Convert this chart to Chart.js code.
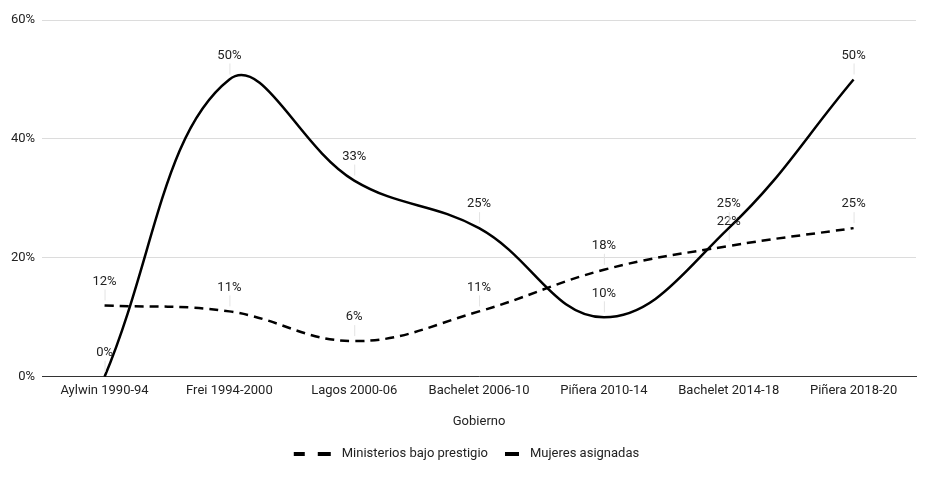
<!DOCTYPE html>
<html lang="es">
<head>
  <meta charset="UTF-8" />
  <title>Ministerios por gobierno</title>
  <script src="https://cdn.jsdelivr.net/npm/chart.js"></script>
  <style>
    body { margin: 0; background: #fff; }
    canvas { display: block; }
  </style>
</head>
<body>
  <canvas id="chart" width="933" height="479"></canvas>

  <script>
    const gobiernos = ["Aylwin 1990-94", "Frei 1994-2000", "Lagos 2000-06", "Bachelet 2006-10", "Piñera 2010-14", "Bachelet 2014-18", "Piñera 2018-20"];
    const bajoPrestigio = [12, 11, 6, 11, 18, 22, 25];
    const mujeresAsignadas = [0, 50, 33, 25, 10, 25, 50];
    const yTicks = [0, 20, 40, 60];

    const FONT = "Roboto, 'Noto Sans', sans-serif";

    // labels above every point, with a faint leader line
    const pointLabels = {
      id: "pointLabels",
      afterDatasetsDraw(chart) {
        const ctx = chart.ctx;
        ctx.save();
        ctx.font = "13px " + FONT;
        ctx.textAlign = "center";
        ctx.textBaseline = "middle";
        chart.data.datasets.forEach((ds, i) => {
          chart.getDatasetMeta(i).data.forEach((pt, j) => {
            ctx.strokeStyle = "#e3e3e3";
            ctx.lineWidth = 1;
            ctx.beginPath();
            ctx.moveTo(pt.x + 0.5, pt.y - 5);
            ctx.lineTo(pt.x + 0.5, pt.y - 16);
            ctx.stroke();
            ctx.fillStyle = "#222";
            ctx.fillText(ds.data[j] + "%", pt.x, pt.y - 24);
          });
        });
        ctx.restore();
      }
    };

    // legend with dashed / solid line markers
    const lineLegend = {
      id: "lineLegend",
      afterDraw(chart) {
        const ctx = chart.ctx;
        ctx.save();
        ctx.font = "13px " + FONT;
        ctx.textBaseline = "middle";
        const y = 454;
        const items = chart.data.datasets.map(ds => ({
          text: ds.label,
          dash: ds.borderDash && ds.borderDash.length,
          markW: ds.borderDash && ds.borderDash.length ? 37 : 14
        }));
        let total = 0;
        items.forEach((it, k) => {
          total += it.markW + 11 + ctx.measureText(it.text).width + (k ? 17 : 0);
        });
        let x = (chart.width - total) / 2;
        items.forEach((it, k) => {
          if (k) x += 17;
          ctx.fillStyle = "#000";
          if (it.dash) {
            ctx.fillRect(x, y - 2, 11, 4);
            ctx.fillRect(x + 24, y - 2, 13, 4);
          } else {
            ctx.fillRect(x, y - 2, 14, 4);
          }
          x += it.markW + 11;
          ctx.fillStyle = "#222";
          ctx.fillText(it.text, x, y);
          x += ctx.measureText(it.text).width;
        });
        ctx.restore();
      }
    };

    new Chart(document.getElementById("chart").getContext("2d"), {
      type: "line",
      data: {
        labels: gobiernos,
        datasets: [
          {
            label: "Ministerios bajo prestigio",
            data: bajoPrestigio,
            borderColor: "#000",
            borderWidth: 2.5,
            borderDash: [9, 6],
            tension: 0.4,
            pointRadius: 0,
            fill: false
          },
          {
            label: "Mujeres asignadas",
            data: mujeresAsignadas,
            borderColor: "#000",
            borderWidth: 2.5,
            tension: 0.4,
            pointRadius: 0,
            fill: false
          }
        ]
      },
      options: {
        responsive: false,
        animation: false,
        layout: { padding: { top: 20, right: 17, left: 4, bottom: 49 } },
        plugins: {
          legend: { display: false },
          tooltip: { enabled: false }
        },
        scales: {
          x: {
            offset: true,
            grid: { display: false, drawTicks: false },
            border: { color: "#333", width: 1 },
            ticks: { color: "#222", font: { family: FONT, size: 13 }, padding: 6, maxRotation: 0 },
            title: {
              display: true,
              text: "Gobierno",
              color: "#222",
              font: { family: FONT, size: 13 },
              padding: { top: 10, bottom: 0 }
            }
          },
          y: {
            min: 0,
            max: 60,
            afterBuildTicks(axis) { axis.ticks = yTicks.map(v => ({ value: v })); },
            grid: { color: "#dcdcdc", drawTicks: false },
            border: { display: false },
            ticks: {
              color: "#222",
              font: { family: FONT, size: 13 },
              padding: 7,
              callback: v => v + "%"
            }
          }
        }
      },
      plugins: [pointLabels, lineLegend]
    });
  </script>
</body>
</html>
